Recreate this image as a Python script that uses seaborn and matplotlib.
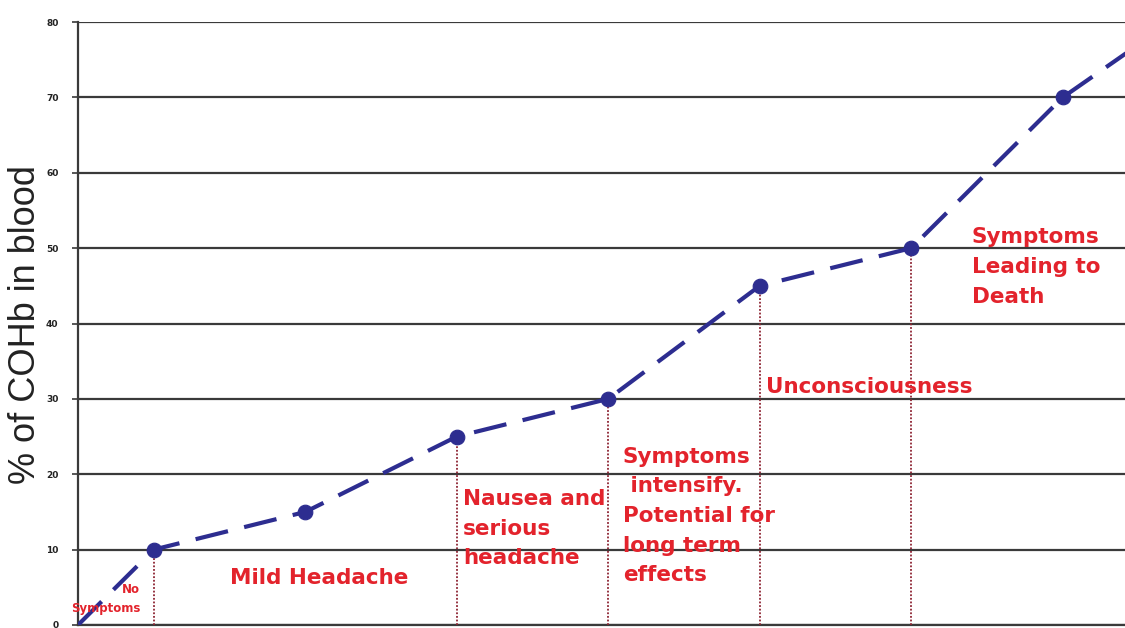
import numpy as np
import pandas as pd
import matplotlib
matplotlib.use("Agg")
from matplotlib import pyplot as plt
import seaborn as sb

# stage position along the x axis and % COHb at each stage
stage_x = [0, 1, 3, 5, 7, 9, 11, 13, 14]
cohb = [0, 10, 15, 25, 30, 45, 50, 70, 77]

# points that get a marker
marker_x = [1, 3, 5, 7, 9, 11, 13]
marker_y = [10, 15, 25, 30, 45, 50, 70]

# dotted drop lines under the symptom thresholds
drop_x = [1, 5, 7, 9, 11]
drop_y = [10, 25, 30, 45, 50]

# symptom labels: text, x, y, horizontal alignment, font size
labels = ["No\nSymptoms", "Mild Headache", "Nausea and\nserious\nheadache",
          "Symptoms\n intensify.\nPotential for\nlong term\neffects",
          "Unconsciousness", "Symptoms\nLeading to\nDeath"]
label_x = [0.82, 2.0, 5.08, 7.19, 9.08, 11.8]
label_y = [3.4, 6.3, 12.8, 14.45, 31.6, 47.5]
label_ha = ["right", "left", "left", "left", "left", "left"]
label_size = [8.5, 15.5, 15.5, 15.5, 15.5, 15.5]

y_ticks = [0, 10, 20, 30, 40, 50, 60, 70, 80]

sb.set_style("white")
plt.rcParams["font.family"] = ["DejaVu Sans"]

fig = plt.figure(figsize=(11.25, 6.28), dpi=100)
ax = fig.add_axes([78 / 1125, 3 / 628, 1 - 78 / 1125, 603 / 628])

line_blue = "#2D2D90"
text_red = "#E3232C"
drop_red = "#8E2433"

df = pd.DataFrame({"stage": stage_x, "cohb": cohb})
sb.lineplot(data=df, x="stage", y="cohb", ax=ax, color=line_blue,
            linewidth=3, linestyle=(0, (8, 4)), zorder=4)
sb.scatterplot(x=marker_x, y=marker_y, ax=ax, color=line_blue, s=110,
               edgecolor=line_blue, zorder=5)

ax.vlines(drop_x, 0, drop_y, colors=drop_red, linewidth=1.3,
          linestyles=(0, (1, 1)), zorder=3)

for t, x, y, ha, fs in zip(labels, label_x, label_y, label_ha, label_size):
    ax.text(x, y, t, color=text_red, fontsize=fs, fontweight="bold",
            ha=ha, va="center", linespacing=1.6, clip_on=False, zorder=6)

ax.set_xlim(0, 1047 / 75.75)
ax.set_ylim(0, 80)
ax.set_yticks(y_ticks)
ax.set_yticklabels(y_ticks, fontsize=6.5, fontweight="bold", color="#222222")
ax.set_xticks([])
ax.yaxis.grid(True, color="#3a3a3a", linewidth=1.6)
ax.tick_params(axis="y", length=4, width=1.2, color="#3a3a3a", pad=10, left=True)

for side in ["top", "right"]:
    ax.spines[side].set_visible(False)
ax.spines["left"].set_color("#3a3a3a")
ax.spines["left"].set_linewidth(1.6)
ax.spines["bottom"].set_color("#3a3a3a")
ax.spines["bottom"].set_linewidth(1.6)

ax.set_xlabel("")
ax.set_ylabel("")
fig.text(26 / 1125, 1 - 325 / 628, "% of COHb in blood", rotation=90,
         fontsize=26, family="Liberation Sans", color="#222222",
         ha="center", va="center")

fig.savefig("out.png", dpi=100)
